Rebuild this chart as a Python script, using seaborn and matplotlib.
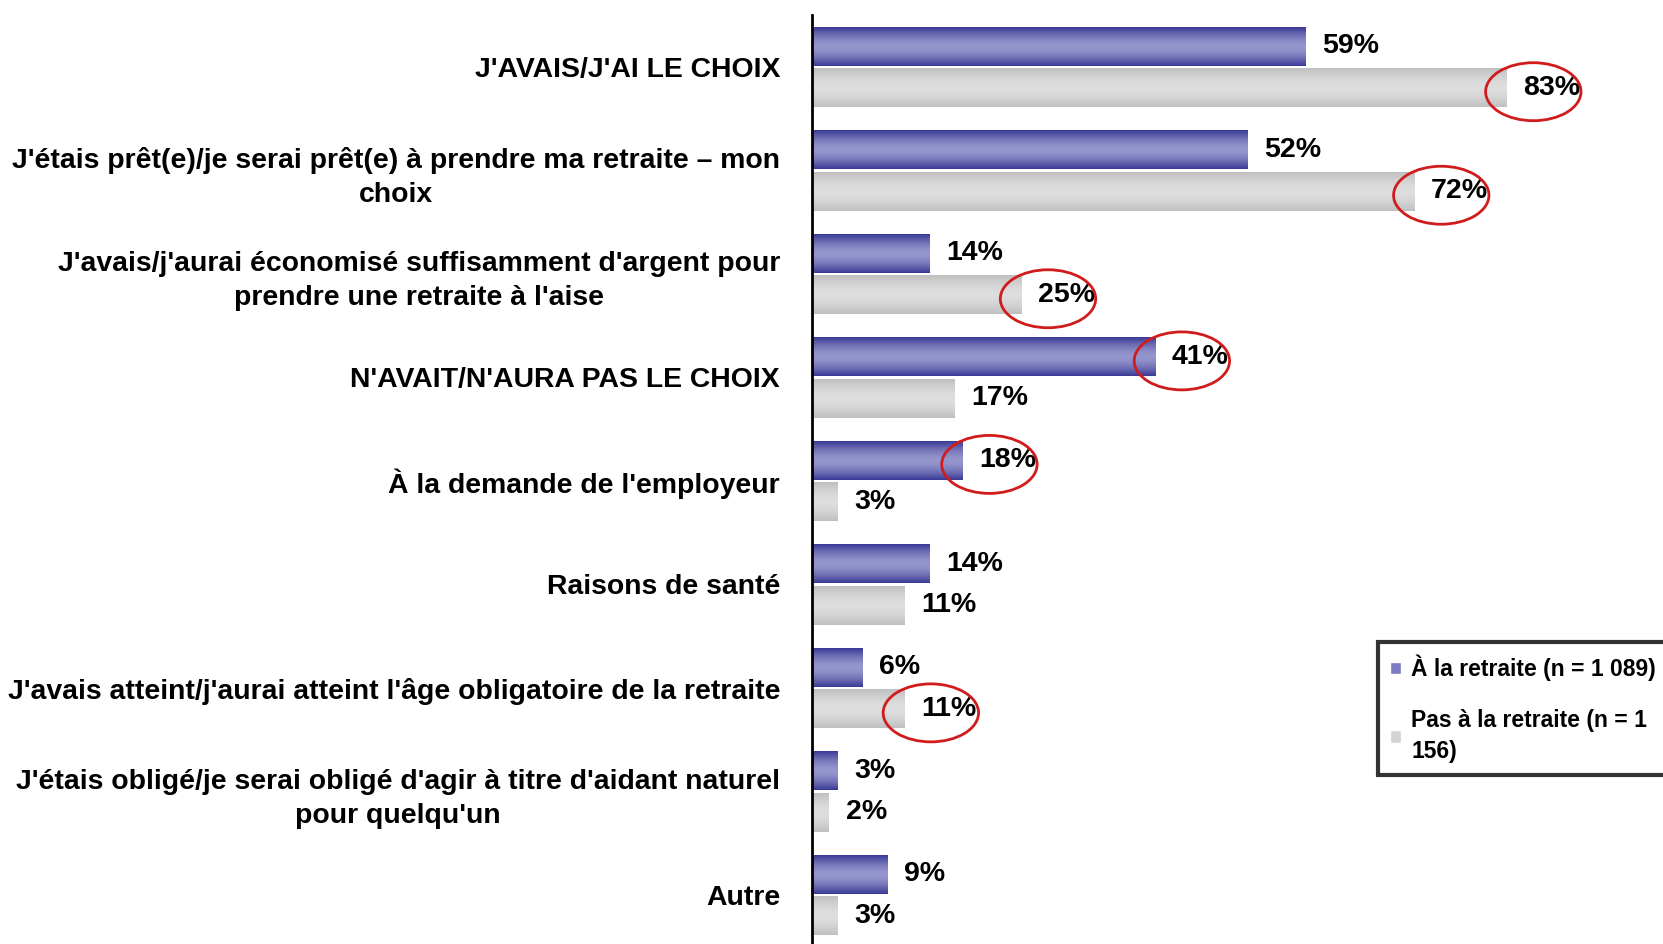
import numpy as np
import pandas as pd
import matplotlib
matplotlib.use('Agg')
import matplotlib.pyplot as plt
import seaborn as sns
from matplotlib.patches import Ellipse, Patch

# data, top to bottom
categories = [
    "J'AVAIS/J'AI LE CHOIX",
    "J'étais prêt(e)/je serai prêt(e) à prendre ma retraite – mon\nchoix",
    "J'avais/j'aurai économisé suffisamment d'argent pour\nprendre une retraite à l'aise",
    "N'AVAIT/N'AURA PAS LE CHOIX",
    "À la demande de l'employeur",
    "Raisons de santé",
    "J'avais atteint/j'aurai atteint l'âge obligatoire de la retraite",
    "J'étais obligé/je serai obligé d'agir à titre d'aidant naturel\npour quelqu'un",
    "Autre",
]
retraite = [59, 52, 14, 41, 18, 14, 6, 3, 9]
pas_retraite = [83, 72, 25, 17, 3, 11, 11, 2, 3]
series = ['À la retraite (n = 1 089)', 'Pas à la retraite (n = 1 156)']
legend_labels = ['À la retraite (n = 1 089)', 'Pas à la retraite (n = 1\n156)']
# red circles: (category index, series index)
circled = [(0, 1), (1, 1), (2, 1), (3, 0), (4, 0), (6, 1)]

df = pd.DataFrame({
    'cat': categories * 2,
    'val': retraite + pas_retraite,
    'serie': [series[0]] * len(categories) + [series[1]] * len(categories),
})

sns.set_style('white')
plt.rcParams['font.family'] = ['Liberation Sans Narrow', 'Liberation Sans', 'DejaVu Sans']
plt.rcParams['font.weight'] = 'bold'
plt.rcParams['text.color'] = 'black'
plt.rcParams['ytick.color'] = 'black'
plt.rcParams['ytick.labelcolor'] = 'black'

fig = plt.figure(figsize=(16.63, 9.44), dpi=100)
ax = fig.add_axes([0.4883, -0.003, 0.5117, 0.987])

sns.barplot(data=df, y='cat', x='val', hue='serie', orient='h',
            palette=['#7b7bc0', '#d3d3d3'], width=0.8, gap=0.06,
            saturation=1, edgecolor='white', linewidth=1, legend=False, ax=ax)

# gradient fill on the bars
t = np.linspace(0, 1, 64)
shade = np.abs(2 * t - 1) ** 1.6
dark = np.array([[58, 58, 150], [192, 192, 192]]) / 255
light = np.array([[150, 150, 206], [222, 222, 222]]) / 255
values = [retraite, pas_retraite]
for i, cont in enumerate(ax.containers):
    grad = light[i] + (dark[i] - light[i]) * shade[:, None]
    img = grad[:, None, :]
    for j, bar in enumerate(cont):
        x0, y0 = bar.get_x(), bar.get_y()
        w, h = bar.get_width(), bar.get_height()
        im = ax.imshow(img, extent=[x0, x0 + w, y0 + h, y0], aspect='auto',
                       interpolation='bilinear', zorder=bar.get_zorder() + 0.1)
        im.set_clip_path(bar)
        yc = y0 + h / 2
        ax.text(x0 + w + 2.0, yc, f'{values[i][j]}%', va='center', ha='left',
                fontsize=20.5, fontweight='bold', color='black', zorder=6)
        if (j, i) in circled:
            ax.add_patch(Ellipse((x0 + w + 3.2, yc + 0.04), width=11.4, height=0.56,
                                 fill=False, edgecolor='#d01c1c', lw=2, zorder=7))

ax.set_xlim(0, 101.7)
ax.set_ylim(len(categories) - 0.5, -0.5)
ax.set_xlabel('')
ax.set_ylabel('')
ax.set_xticks([])

for s in ['top', 'right', 'bottom']:
    ax.spines[s].set_visible(False)
ax.spines['left'].set_color('black')
ax.spines['left'].set_linewidth(2)

ax.set_yticks(np.arange(-0.5, len(categories), 1), minor=True)
ax.tick_params(axis='y', which='major', length=0, pad=23, labelsize=20.4, labelcolor='black')
ax.tick_params(axis='y', which='minor', length=6, width=1.6, direction='out', color='black')
for lbl in ax.get_yticklabels():
    lbl.set_multialignment('center')
    lbl.set_fontweight('bold')
    lbl.set_linespacing(1.4)

handles = [Patch(facecolor='#7b7bc0'), Patch(facecolor='#d3d3d3')]
leg = fig.legend(handles, legend_labels, loc='upper left', bbox_to_anchor=(0.8285, 0.3199),
                 frameon=True, fancybox=False, edgecolor='black', fontsize=16.5,
                 handlelength=0.45, handleheight=0.45, handletextpad=0.45,
                 labelspacing=1.2, borderpad=0.55, borderaxespad=0)
leg.get_frame().set_linewidth(3)
for txt in leg.get_texts():
    txt.set_linespacing(1.45)
    txt.set_color('black')

fig.savefig('out.png', dpi=100)
